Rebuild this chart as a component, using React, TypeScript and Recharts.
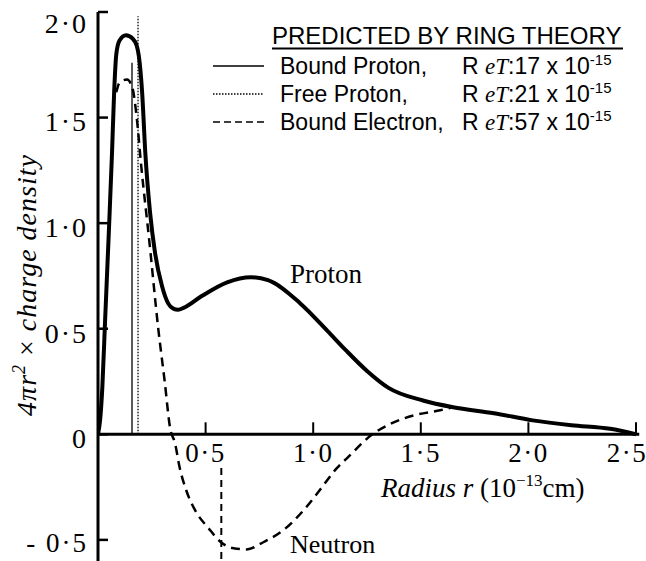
import React from 'react';
import { LineChart, Line, XAxis, YAxis, ReferenceLine, ReferenceDot } from 'recharts';

// Bound proton (solid) : radius r (1e-13 cm) vs 4πr² × charge density
const boundProton = [
  { r: 0, v: 0 },
  { r: 0.01, v: 0.07 },
  { r: 0.02, v: 0.22 },
  { r: 0.033, v: 0.54 },
  { r: 0.05, v: 0.95 },
  { r: 0.065, v: 1.33 },
  { r: 0.075, v: 1.62 },
  { r: 0.085, v: 1.8 },
  { r: 0.1, v: 1.865 },
  { r: 0.13, v: 1.89 },
  { r: 0.16, v: 1.875 },
  { r: 0.18, v: 1.84 },
  { r: 0.19, v: 1.79 },
  { r: 0.205, v: 1.62 },
  { r: 0.22, v: 1.33 },
  { r: 0.242, v: 1.05 },
  { r: 0.265, v: 0.86 },
  { r: 0.298, v: 0.7 },
  { r: 0.326, v: 0.62 },
  { r: 0.35, v: 0.595 },
  { r: 0.372, v: 0.59 },
  { r: 0.4, v: 0.6 },
  { r: 0.475, v: 0.65 },
  { r: 0.6, v: 0.72 },
  { r: 0.71, v: 0.744 },
  { r: 0.79, v: 0.73 },
  { r: 0.94, v: 0.62 },
  { r: 1.066, v: 0.49 },
  { r: 1.15, v: 0.4 },
  { r: 1.25, v: 0.3 },
  { r: 1.35, v: 0.22 },
  { r: 1.51, v: 0.16 },
  { r: 1.65, v: 0.128 },
  { r: 1.84, v: 0.1 },
  { r: 2.02, v: 0.066 },
  { r: 2.2, v: 0.043 },
  { r: 2.38, v: 0.026 },
  { r: 2.5, v: 0 },
];

// Bound electron (dashed) -> neutron curve
const boundElectron = [
  { r: 0.085, v: 1.62 },
  { r: 0.1, v: 1.665 },
  { r: 0.135, v: 1.68 },
  { r: 0.16, v: 1.64 },
  { r: 0.18, v: 1.5 },
  { r: 0.2, v: 1.28 },
  { r: 0.24, v: 0.9 },
  { r: 0.28, v: 0.5 },
  { r: 0.31, v: 0.25 },
  { r: 0.335, v: 0.03 },
  { r: 0.358, v: -0.043 },
  { r: 0.38, v: -0.16 },
  { r: 0.41, v: -0.265 },
  { r: 0.46, v: -0.375 },
  { r: 0.51, v: -0.44 },
  { r: 0.57, v: -0.51 },
  { r: 0.63, v: -0.54 },
  { r: 0.69, v: -0.545 },
  { r: 0.77, v: -0.51 },
  { r: 0.86, v: -0.455 },
  { r: 0.955, v: -0.36 },
  { r: 1.03, v: -0.265 },
  { r: 1.11, v: -0.16 },
  { r: 1.16, v: -0.11 },
  { r: 1.275, v: 0 },
  { r: 1.36, v: 0.05 },
  { r: 1.47, v: 0.09 },
  { r: 1.59, v: 0.114 },
  { r: 1.65, v: 0.128 },
];

const xTicks = [0.5, 1.0, 1.5, 2.0, 2.5];
const xTickLabels = ['0·5', '1·0', '1·5', '2·0', '2·5'];
const yTicks = [2.0, 1.5, 1.0, 0.5, 0, -0.5];
const yTickLabels = ['2·0', '1·5', '1·0', '0·5', '0', '- 0·5'];

const boundProtonRadius = 0.158;
const boundProtonMarkerTop = 1.76;
const freeProtonRadius = 0.186;
const freeProtonMarkerTop = 1.98;
const boundElectronRadius = 0.573;
const boundElectronMarkerTop = -0.16;
const yMin = -0.6;
const xAxisEnd = 2.515;

const legendTitle = 'PREDICTED BY RING THEORY';
const legendNames = ['Bound Proton,', 'Free Proton,', 'Bound Electron,'];
const legendValues = ['17', '21', '57'];
const legendDash = ['', '1.5 1.5', '7 4'];

const SERIF = '"Liberation Serif", "DejaVu Serif", serif';
const SANS = '"Liberation Sans", Arial, sans-serif';

const YTick = (props: any) => {
  const { x, y, payload } = props;
  const i = yTicks.indexOf(payload.value);
  const label = yTickLabels[i];
  const dy = payload.value === 2 ? 11 : payload.value < 0 ? 3 : 4;
  return (
    <g>
      <line x1={x} y1={y} x2={x + 10} y2={y} stroke="#000" strokeWidth={2.5} />
      <text
        x={x - 10}
        y={y + dy}
        dy="0.35em"
        textAnchor="end"
        fontFamily={SERIF}
        fontSize={payload.value < 0 ? 27 : 28}
        letterSpacing={2}
        fill="#000"
      >
        {label}
      </text>
    </g>
  );
};

const makeXTick = (label: string, last: boolean) => (p: any) => {
  const { cx, cy } = p;
  return (
    <g>
      <line x1={cx} y1={cy} x2={cx} y2={cy - 12} stroke="#000" strokeWidth={2} />
      <text
        x={last ? cx - 9 : cx}
        y={cy + 28}
        textAnchor="middle"
        fontFamily={SERIF}
        fontSize={27}
        letterSpacing={1.5}
        fill="#000"
      >
        {label}
      </text>
    </g>
  );
};

export default function App() {
  return (
    <div style={{ position: 'absolute', left: 0, top: 0, width: 646, height: 561, background: '#fff' }}>
      <LineChart width={646} height={561} margin={{ top: 12, right: 10, bottom: 0, left: 0 }}>
        <XAxis dataKey="r" type="number" domain={[0, 2.5]} hide allowDataOverflow />
        <YAxis
          type="number"
          domain={[yMin, 2]}
          ticks={yTicks}
          width={98}
          axisLine={{ stroke: '#000', strokeWidth: 3 }}
          tickLine={false}
          tickSize={0}
          tickMargin={0}
          tick={<YTick />}
          interval={0}
          allowDataOverflow
        />
        <ReferenceLine
          segment={[{ x: 0, y: 0 }, { x: xAxisEnd, y: 0 }]}
          stroke="#000"
          strokeWidth={3}
          ifOverflow="visible"
        />
        {xTicks.map((t, i) => (
          <ReferenceDot
            key={t}
            x={t}
            y={0}
            r={0}
            ifOverflow="visible"
            shape={makeXTick(xTickLabels[i], i === xTicks.length - 1)}
          />
        ))}
        <ReferenceLine
          segment={[{ x: boundProtonRadius, y: 0 }, { x: boundProtonRadius, y: boundProtonMarkerTop }]}
          stroke="#000"
          strokeWidth={1.3}
        />
        <ReferenceLine
          segment={[{ x: freeProtonRadius, y: 0 }, { x: freeProtonRadius, y: freeProtonMarkerTop }]}
          stroke="#000"
          strokeWidth={1.3}
          strokeDasharray="1.5 1.5"
        />
        <ReferenceLine
          segment={[{ x: boundElectronRadius, y: boundElectronMarkerTop }, { x: boundElectronRadius, y: yMin }]}
          stroke="#000"
          strokeWidth={2}
          strokeDasharray="7 5"
        />
        <Line
          data={boundElectron}
          dataKey="v"
          type="monotone"
          stroke="#000"
          strokeWidth={2.5}
          strokeDasharray="9 6"
          dot={false}
          activeDot={false}
          isAnimationActive={false}
        />
        <Line
          data={boundProton}
          dataKey="v"
          type="monotone"
          stroke="#000"
          strokeWidth={4}
          dot={false}
          activeDot={false}
          isAnimationActive={false}
        />
      </LineChart>
      <svg
        width={646}
        height={561}
        style={{ position: 'absolute', left: 0, top: 0, pointerEvents: 'none' }}
      >
        {/* Legend */}
        <text x={272} y={44} fontFamily={SANS} fontSize={24} fill="#000">
          {legendTitle}
        </text>
        <line x1={272} y1={48.5} x2={623} y2={48.5} stroke="#000" strokeWidth={2} />
        {legendNames.map((n, i) => {
          const base = 74 + i * 28;
          return (
            <g key={n}>
              <line
                x1={213}
                y1={base - 8}
                x2={264}
                y2={base - 8}
                stroke="#000"
                strokeWidth={i === 0 ? 1.6 : 1.3}
                strokeDasharray={legendDash[i] || undefined}
              />
              <text x={280} y={base} fontFamily={SANS} fontSize={23} fill="#000">
                {n}
              </text>
              <text x={462} y={base} fontFamily={SANS} fontSize={23} fill="#000">
                R{' '}
                <tspan fontFamily={SERIF} fontStyle="italic">eT</tspan>
                {':' + legendValues[i] + ' x 10'}
                <tspan fontSize={15} dy={-9}>-15</tspan>
              </text>
            </g>
          );
        })}
        {/* Annotations */}
        <text x={290} y={283} fontFamily={SERIF} fontSize={27} fill="#000">Proton</text>
        <text x={290} y={553} fontFamily={SERIF} fontSize={26} fill="#000">Neutron</text>
        {/* X axis title */}
        <text x={381} y={497} fontFamily={SERIF} fontSize={27} fill="#000">
          <tspan fontStyle="italic">Radius r</tspan>
          <tspan> (10</tspan>
          <tspan fontSize={17} dy={-11}>−13</tspan>
          <tspan dy={11}>cm)</tspan>
        </text>
        {/* Y axis title */}
        <text
          x={0}
          y={0}
          transform="translate(36 285) rotate(-90)"
          textAnchor="middle"
          fontFamily={SERIF}
          fontStyle="italic"
          fontSize={28}
          letterSpacing={1}
          fill="#000"
        >
          4πr<tspan fontSize={18} dy={-11}>2</tspan>
          <tspan dy={11} fontStyle="normal"> × </tspan>charge density
        </text>
      </svg>
    </div>
  );
}
